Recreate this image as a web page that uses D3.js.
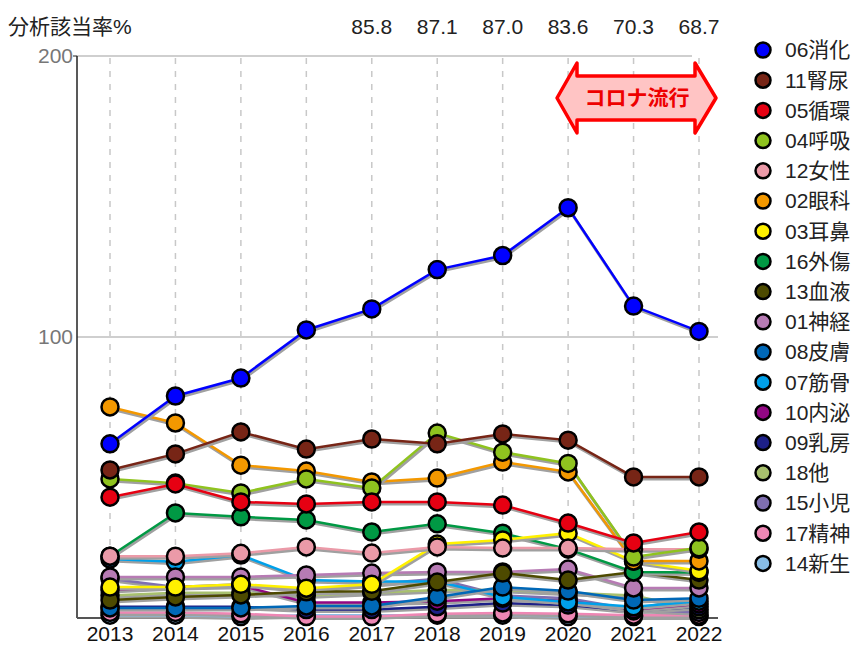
<!DOCTYPE html>
<html>
<head>
<meta charset="utf-8">
<script src="https://cdn.jsdelivr.net/npm/d3@7"></script>
<style>
  body { margin: 0; background: #fff; }
  svg text { font-family: "Liberation Sans", "Noto Sans CJK JP", sans-serif; }
</style>
</head>
<body>
<svg id="chart"></svg>
<script>
const years = [2013, 2014, 2015, 2016, 2017, 2018, 2019, 2020, 2021, 2022];
const topRates = ["", "", "", "", "85.8", "87.1", "87.0", "83.6", "70.3", "68.7"];
const yTicks = [100, 200];

const seriesNames = ["06消化", "11腎尿", "05循環", "04呼吸", "12女性", "02眼科", "03耳鼻", "16外傷", "13血液",
  "01神経", "08皮膚", "07筋骨", "10内泌", "09乳房", "18他", "15小児", "17精神", "14新生"];
const seriesColors = ["#0000ff", "#772516", "#e60012", "#8fc31f", "#eb9aa8", "#f39800", "#fff100", "#009944", "#4d4a00",
  "#b77bb4", "#0068b7", "#00a0e9", "#920783", "#1d2088", "#a8c06e", "#7f6fb0", "#ee87b4", "#88bde6"];
const seriesValues = [
  [62, 79, 85.4, 102.5, 110, 124, 129, 146, 111, 102],
  [52.7, 58.4, 66.2, 60.1, 63.7, 62, 65.5, 63.3, 50.2, 50.2],
  [43, 47.7, 41.3, 40.6, 41.3, 41.3, 40.2, 33.8, 26.7, 30.6],
  [49.5, 48, 44.5, 49.5, 46.3, 65.8, 59, 55, 21.7, 25],
  [22, 22, 23, 25.3, 23.1, 25.3, 24.9, 24.9, 24.5, 24.5],
  [75.1, 69.4, 54.4, 52.3, 48.4, 49.8, 55.5, 52, 20.3, 20.3],
  [11, 11, 12, 10.6, 12, 26.3, 27.8, 30.2, 20.2, 16.8],
  [22, 37.4, 36, 34.9, 30.6, 33.5, 30.2, 24.5, 16.4, 16.2],
  [6.4, 7.5, 8.2, 9.3, 9.5, 12.8, 16, 13.5, 16.4, 13.5],
  [14.6, 14.6, 14.6, 15.3, 16, 16.4, 16.4, 17.4, 10.7, 10.7],
  [3.6, 3.6, 3.6, 4.3, 4.3, 7.5, 11, 9.6, 6.4, 7],
  [21, 20, 22.4, 13.5, 13, 13, 7.5, 5.7, 4, 6],
  [10, 11, 11.5, 5.5, 5.5, 6, 7, 6, 3, 5],
  [4, 4, 4, 3, 3, 4, 5.3, 4.6, 2.5, 4],
  [8, 9, 9, 8, 9, 10, 10, 9, 8, 3],
  [14, 11, 12, 10, 12, 14, 8, 7, 3, 2],
  [2, 2, 1.5, 0.5, 0.5, 1.5, 1.8, 1.5, 1, 1],
  [1, 1, 0.5, 1, 1, 1, 1, 0.5, 0.5, 0.5]
];

const W = 856, H = 646;
const plot = { left: 77, right: 718, top: 56, bottom: 618 };
const fontSize = "21px";

const svg = d3.select("#chart").attr("width", W).attr("height", H);

const x = d3.scalePoint().domain(years).range([110, 699]);
const y = d3.scaleLinear().domain([0, 200]).range([plot.bottom, plot.top]);

// vertical dashed grid
svg.append("g").selectAll("line")
  .data(years)
  .join("line")
    .attr("x1", d => x(d)).attr("x2", d => x(d))
    .attr("y1", plot.top + 2).attr("y2", plot.bottom)
    .attr("stroke", "#c8c8c8")
    .attr("stroke-width", 1.5)
    .attr("stroke-dasharray", "6,7");

// horizontal grid
svg.append("g").selectAll("line")
  .data(yTicks)
  .join("line")
    .attr("x1", plot.left).attr("x2", d => d === 200 ? 692 : plot.right)
    .attr("y1", d => y(d)).attr("y2", d => y(d))
    .attr("stroke", "#cfcfcf")
    .attr("stroke-width", 2);

// y labels
svg.append("g").selectAll("text")
  .data(yTicks)
  .join("text")
    .attr("x", 73)
    .attr("y", d => y(d))
    .attr("dy", "0.35em")
    .attr("text-anchor", "end")
    .attr("fill", "#777")
    .style("font-size", fontSize)
    .text(d => d);

// axes lines
svg.append("line")
  .attr("x1", plot.left).attr("x2", plot.left)
  .attr("y1", plot.top).attr("y2", plot.bottom)
  .attr("stroke", "#222").attr("stroke-width", 1.5);
svg.append("line")
  .attr("x1", 73).attr("x2", plot.left)
  .attr("y1", plot.top).attr("y2", plot.top)
  .attr("stroke", "#222").attr("stroke-width", 1);
svg.append("line")
  .attr("x1", plot.left).attr("x2", plot.right)
  .attr("y1", plot.bottom).attr("y2", plot.bottom)
  .attr("stroke", "#555").attr("stroke-width", 2);

// x labels
svg.append("g").selectAll("text")
  .data(years)
  .join("text")
    .attr("x", d => x(d))
    .attr("y", 634)
    .attr("dy", "0.35em")
    .attr("text-anchor", "middle")
    .attr("fill", "#111")
    .style("font-size", fontSize)
    .text(d => d);

// top labels
svg.append("text")
  .attr("x", 8).attr("y", 27).attr("dy", "0.35em")
  .attr("fill", "#222")
  .style("font-size", fontSize)
  .text("分析該当率%");

svg.append("g").selectAll("text")
  .data(years)
  .join("text")
    .attr("x", d => x(d))
    .attr("y", 27)
    .attr("dy", "0.35em")
    .attr("text-anchor", "middle")
    .attr("fill", "#222")
    .style("font-size", fontSize)
    .text((d, i) => topRates[i]);

// series, drawn last legend item first
const series = seriesNames.map((name, i) => ({
  name, color: seriesColors[i],
  points: years.map((yr, j) => ({ year: yr, value: seriesValues[i][j] }))
})).reverse();

const line = d3.line().x(d => x(d.year)).y(d => y(d.value));

const lines = svg.append("g");
series.forEach(s => {
  lines.append("path")
    .datum(s.points)
    .attr("d", line)
    .attr("transform", "translate(1,2)")
    .attr("fill", "none")
    .attr("stroke", "#a0a0a0")
    .attr("stroke-width", 3);
  lines.append("path")
    .datum(s.points)
    .attr("d", line)
    .attr("fill", "none")
    .attr("stroke", s.color)
    .attr("stroke-width", 2.5);
});

const marks = svg.append("g");
series.forEach(s => {
  marks.append("g").selectAll("circle")
    .data(s.points)
    .join("circle")
      .attr("cx", d => x(d.year))
      .attr("cy", d => y(d.value))
      .attr("r", 8.5)
      .attr("fill", s.color)
      .attr("stroke", "#000")
      .attr("stroke-width", 2.5);
});

// corona annotation
const ax0 = 557, ax1 = 716, ay = 98;
const arrowPts = [
  [ax0, ay], [577, 63], [577, 76], [695, 76], [695, 63], [ax1, ay],
  [695, 133], [695, 120], [577, 120], [577, 133]
];
svg.append("polygon")
  .attr("points", arrowPts.map(p => p.join(",")).join(" "))
  .attr("fill", "#ffc4c4")
  .attr("stroke", "#ff0000")
  .attr("stroke-width", 3.5)
  .attr("stroke-linejoin", "round");
svg.append("text")
  .attr("x", 637).attr("y", ay).attr("dy", "0.35em")
  .attr("text-anchor", "middle")
  .attr("fill", "#ee0000")
  .style("font-size", "21px")
  .style("font-weight", "bold")
  .text("コロナ流行");

// legend
const legend = svg.append("g").selectAll("g")
  .data(seriesNames)
  .join("g")
    .attr("transform", (d, i) => `translate(763,${50 + i * 30.2})`);
legend.append("circle")
  .attr("r", 7.5)
  .attr("fill", (d, i) => seriesColors[i])
  .attr("stroke", "#000")
  .attr("stroke-width", 2.5);
legend.append("text")
  .attr("x", 22).attr("dy", "0.35em")
  .attr("fill", "#222")
  .style("font-size", fontSize)
  .text(d => d);
</script>
</body>
</html>
